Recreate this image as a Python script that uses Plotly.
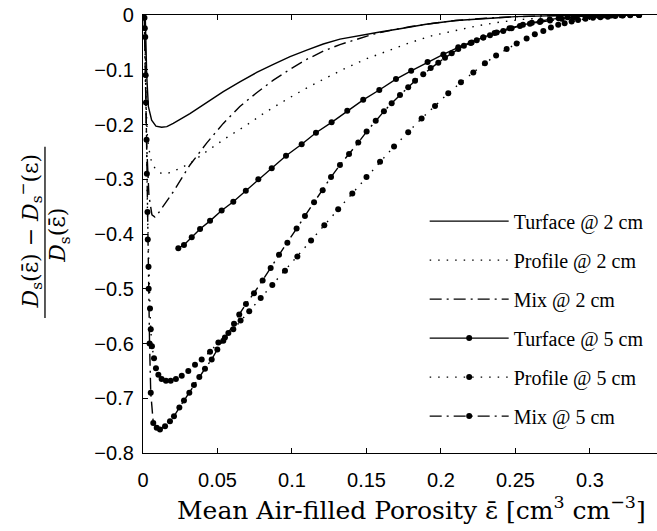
import plotly.graph_objects as go

# ---------------- data ----------------
turface2_x = [0.0015, 0.0020, 0.0025, 0.0036, 0.0058, 0.0087, 0.0125, 0.0160, 0.0203, 0.0315, 0.0427,
              0.0539, 0.065, 0.0763, 0.0875, 0.0987, 0.1099, 0.121, 0.1322, 0.1434, 0.159, 0.1725,
              0.19, 0.21, 0.23, 0.25, 0.28, 0.31, 0.333]
turface2_y = [0.0, -0.06, -0.11, -0.167, -0.192, -0.203, -0.205, -0.204, -0.198, -0.180, -0.160,
              -0.140, -0.122, -0.105, -0.090, -0.076, -0.064, -0.053, -0.044, -0.038, -0.031, -0.025,
              -0.017, -0.010, -0.006, -0.003, -0.001, -0.0003, 0.0]

profile2_x = [0.001, 0.0015, 0.002, 0.003, 0.005, 0.008, 0.011, 0.014, 0.018, 0.024, 0.0315, 0.0438,
              0.0566, 0.0696, 0.0819, 0.0953, 0.108, 0.1221, 0.136, 0.150, 0.1646, 0.1787, 0.1937,
              0.2083, 0.224, 0.2396, 0.255, 0.27, 0.29, 0.31, 0.333]
profile2_y = [0.0, -0.09, -0.16, -0.225, -0.262, -0.280, -0.288, -0.290, -0.288, -0.281, -0.271, -0.247,
              -0.223, -0.201, -0.178, -0.156, -0.136, -0.116, -0.097, -0.080, -0.065, -0.051, -0.038,
              -0.029, -0.020, -0.013, -0.008, -0.005, -0.002, -0.001, 0.0]

mix2_x = [0.0008, 0.0015, 0.0025, 0.004, 0.006, 0.008, 0.0103, 0.0203, 0.0315, 0.0427, 0.0539, 0.065,
          0.0763, 0.0875, 0.0987, 0.1099, 0.121, 0.1322, 0.1434, 0.1546, 0.168, 0.18, 0.195, 0.21,
          0.23, 0.25, 0.28, 0.31, 0.333]
mix2_y = [0.0, -0.10, -0.24, -0.33, -0.365, -0.369, -0.362, -0.323, -0.274, -0.234, -0.198, -0.167,
          -0.142, -0.119, -0.099, -0.081, -0.066, -0.054, -0.044, -0.035, -0.027, -0.021, -0.015, -0.010,
          -0.006, -0.003, -0.001, -0.0003, 0.0]

turface5_x = [0.0237, 0.0275, 0.0327, 0.0383, 0.045, 0.0528, 0.0606, 0.069, 0.0774, 0.0864, 0.096,
              0.1065, 0.1161, 0.1266, 0.1371, 0.1478, 0.1586, 0.1698, 0.180, 0.191, 0.2016, 0.2116,
              0.2206, 0.2284, 0.236, 0.246, 0.255, 0.261, 0.267, 0.273, 0.279, 0.285, 0.291, 0.297,
              0.303, 0.309, 0.315, 0.321, 0.327, 0.333]
turface5_y = [-0.426, -0.420, -0.406, -0.391, -0.376, -0.357, -0.341, -0.321, -0.300, -0.280, -0.257,
              -0.236, -0.215, -0.196, -0.175, -0.155, -0.137, -0.117, -0.102, -0.086, -0.072, -0.059,
              -0.050, -0.041, -0.033, -0.024, -0.018, -0.014, -0.011, -0.008, -0.006, -0.004, -0.003,
              -0.002, -0.0015, -0.001, -0.0006, -0.0003, -0.0001, 0.0]

profile5_x = [0.0012, 0.0018, 0.0024, 0.003, 0.0037, 0.0047, 0.0052, 0.006, 0.0074, 0.0087, 0.0103,
              0.0125, 0.0154, 0.0186, 0.0221, 0.026, 0.0304, 0.0349, 0.0394, 0.045, 0.0506, 0.055,
              0.0606, 0.0655, 0.0713, 0.079, 0.0868, 0.0953, 0.1036, 0.1128, 0.1217, 0.131, 0.1405,
              0.150, 0.1591, 0.1685, 0.178, 0.187, 0.196, 0.2049, 0.2134, 0.2217, 0.2295, 0.237,
              0.2441, 0.2508, 0.2575, 0.263, 0.2687, 0.2738, 0.2787, 0.283, 0.2877, 0.292, 0.297,
              0.302, 0.307, 0.312, 0.317, 0.322, 0.327, 0.333]
profile5_y = [-0.024, -0.11, -0.228, -0.36, -0.46, -0.536, -0.574, -0.605, -0.627, -0.645, -0.657,
              -0.665, -0.668, -0.668, -0.665, -0.659, -0.650, -0.639, -0.629, -0.615, -0.598, -0.589,
              -0.574, -0.558, -0.541, -0.517, -0.493, -0.467, -0.441, -0.412, -0.384, -0.355, -0.326,
              -0.296, -0.268, -0.240, -0.214, -0.189, -0.166, -0.143, -0.123, -0.105, -0.088, -0.074,
              -0.062, -0.052, -0.043, -0.035, -0.029, -0.023, -0.018, -0.015, -0.012, -0.009, -0.007,
              -0.005, -0.004, -0.003, -0.002, -0.001, -0.0005, 0.0]

mix5_x = [0.0010, 0.0015, 0.0020, 0.0026, 0.0032, 0.0038, 0.0044, 0.0052, 0.0069, 0.0092, 0.0114,
          0.0148, 0.0181, 0.0208, 0.0244, 0.0275, 0.0311, 0.0342, 0.0378, 0.0416, 0.0461, 0.0499,
          0.0539, 0.0573, 0.0611, 0.0646, 0.0691, 0.0745, 0.0803, 0.0857, 0.0913, 0.0969, 0.1031,
          0.1087, 0.1148, 0.1206, 0.1262, 0.1322, 0.1383, 0.1445, 0.1501, 0.1562, 0.1617, 0.1669,
          0.1725, 0.178, 0.1826, 0.1881, 0.1931, 0.1982, 0.2027, 0.2072, 0.2116, 0.2154, 0.2199,
          0.224, 0.2284, 0.2329, 0.2374, 0.2418, 0.2474, 0.253, 0.2597, 0.2664, 0.2732, 0.281,
          0.2888, 0.2978, 0.306, 0.314, 0.322, 0.333]
mix5_y = [-0.005, -0.04, -0.16, -0.29, -0.41, -0.50, -0.60, -0.69, -0.745, -0.754, -0.757,
          -0.751, -0.742, -0.733, -0.717, -0.704, -0.690, -0.676, -0.661, -0.646, -0.629, -0.611,
          -0.595, -0.581, -0.564, -0.547, -0.528, -0.508, -0.485, -0.462, -0.438, -0.416, -0.390,
          -0.367, -0.342, -0.320, -0.296, -0.274, -0.254, -0.233, -0.213, -0.193, -0.176, -0.161,
          -0.146, -0.132, -0.120, -0.108, -0.097, -0.087, -0.078, -0.070, -0.062, -0.056, -0.051,
          -0.046, -0.041, -0.037, -0.032, -0.029, -0.024, -0.020, -0.016, -0.013, -0.010, -0.007,
          -0.005, -0.003, -0.002, -0.001, -0.0005, 0.0]

x_ticks = [0, 0.05, 0.1, 0.15, 0.2, 0.25, 0.3]
x_tick_labels = ["0", "0.05", "0.1", "0.15", "0.2", "0.25", "0.3"]
y_ticks = [0, -0.1, -0.2, -0.3, -0.4, -0.5, -0.6, -0.7, -0.8]
y_tick_labels = ["0", "\u22120.1", "\u22120.2", "\u22120.3", "\u22120.4", "\u22120.5", "\u22120.6",
                 "\u22120.7", "\u22120.8"]

series_names = ["Turface @ 2 cm", "Profile @ 2 cm", "Mix @ 2 cm",
                "Turface @ 5 cm", "Profile @ 5 cm", "Mix @ 5 cm"]

# ---------------- figure ----------------
SERIF = "Liberation Serif, DejaVu Serif, serif"
DJSERIF = "DejaVu Serif, serif"
SANS = "Liberation Sans, Arial, sans-serif"
DOT = "1.5px,7px"
DASHDOT = "12px,5px,2px,5px"

specs = [
    (turface2_x, turface2_y, "solid", False),
    (profile2_x, profile2_y, DOT, False),
    (mix2_x, mix2_y, DASHDOT, False),
    (turface5_x, turface5_y, "solid", True),
    (profile5_x, profile5_y, DOT, True),
    (mix5_x, mix5_y, DASHDOT, True),
]

fig = go.Figure()
for i, ((xs, ys, dash, marks), name) in enumerate(zip(specs, series_names)):
    assert len(xs) == len(ys), name
    fig.add_trace(go.Scatter(
        x=xs, y=ys, name=name, legendgroup=f"g{i}",
        mode="lines+markers" if marks else "lines",
        line=dict(color="black", width=1.4, dash=dash),
        marker=dict(color="black", size=6, symbol="circle") if marks else None,
    ))

EPS_BAR = "\u03b5\u0304"

fig.update_layout(
    width=657, height=531,
    margin=dict(l=143, r=0, t=15, b=78),
    paper_bgcolor="white", plot_bgcolor="white",
    showlegend=True,
    legend=dict(
        x=0.548, y=0.574, xanchor="left", yanchor="top",
        bgcolor="rgba(255,255,255,0)",
        font=dict(family=SERIF, size=20, color="black"),
        itemwidth=79, traceorder="grouped", tracegroupgap=10,
    ),
    xaxis=dict(
        range=[0, 0.345], tickvals=x_ticks, ticktext=x_tick_labels,
        ticks="inside", ticklen=5, tickcolor="black", tickwidth=1,
        showline=True, linecolor="black", linewidth=1.3, mirror="ticks",
        showgrid=False, zeroline=False, ticklabelstandoff=9,
        tickfont=dict(family=SANS, size=20, color="black"),
    ),
    yaxis=dict(
        range=[-0.8, 0], tickvals=y_ticks, ticktext=y_tick_labels,
        ticks="inside", ticklen=5, tickcolor="black", tickwidth=1,
        showline=True, linecolor="black", linewidth=1.3, mirror=False,
        showgrid=False, zeroline=False, ticklabelstandoff=4,
        tickfont=dict(family=SANS, size=20, color="black"),
    ),
)

# x-axis label
fig.add_annotation(
    x=0.522, y=-0.126, xref="paper", yref="paper", showarrow=False,
    xanchor="center", yanchor="middle",
    text="Mean Air-filled Porosity " + EPS_BAR + " [cm<sup>3</sup> cm<sup>\u22123</sup>]",
    font=dict(family=DJSERIF, size=25, color="black"),
)

# y-axis label drawn as a fraction
fig.add_annotation(
    x=-0.218, y=0.508, xref="paper", yref="paper", showarrow=False, textangle=-90,
    xanchor="center", yanchor="middle",
    text="<i>D</i><sub>s</sub>(" + EPS_BAR + ") \u2212 <i>D</i><sub>s</sub><sup>\u2212</sup>(\u03b5)",
    font=dict(family=DJSERIF, size=22, color="black"),
)
fig.add_annotation(
    x=-0.1615, y=0.498, xref="paper", yref="paper", showarrow=False, textangle=-90,
    xanchor="center", yanchor="middle",
    text="<i>D</i><sub>s</sub>(" + EPS_BAR + ")",
    font=dict(family=DJSERIF, size=22, color="black"),
)
fig.add_shape(type="line", xref="paper", yref="paper",
              x0=-0.1907, x1=-0.1907, y0=0.308, y1=0.699,
              line=dict(color="black", width=1.3))

fig.write_html("out.html")
